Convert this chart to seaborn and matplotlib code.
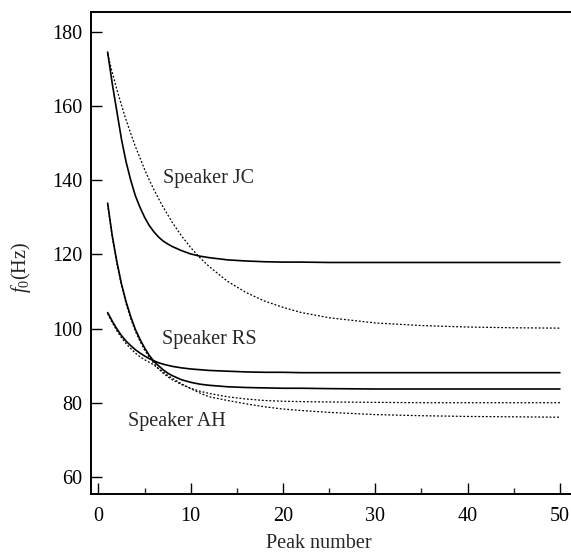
import matplotlib
matplotlib.use("Agg")
import matplotlib.pyplot as plt
import seaborn as sns
import pandas as pd
from matplotlib.ticker import MultipleLocator

# Peak numbers at which the fitted f0 curves are tabulated
peaks = [1, 1.5, 2, 2.5, 3, 3.5, 4, 4.5, 5, 5.5, 6, 6.5, 7, 7.5, 8, 9, 10, 11, 12,
         14, 16, 18, 20, 22, 25, 30, 35, 40, 45, 50]

# Speaker JC
jc_solid = [174.5, 166.0, 158.5, 151.0, 144.9, 140.0, 135.8, 132.7, 130.0, 127.8, 126.1, 124.7,
            123.6, 122.8, 122.1, 121.0, 120.1, 119.5, 119.1,
            118.5, 118.2, 118.0, 117.9, 117.9, 117.8, 117.8, 117.8, 117.8, 117.8, 117.8]
jc_dotted = [174.0, 169.0, 164.4, 160.2, 156.2, 152.6, 149.1, 146.0, 142.9, 140.1, 137.5, 135.1,
             132.8, 130.7, 128.6, 125.0, 121.8, 119.1, 116.7,
             112.7, 109.7, 107.4, 105.7, 104.3, 102.9, 101.5, 100.8, 100.4, 100.2, 100.1]

# Speaker RS
rs_solid = [133.8, 125.0, 118.0, 112.0, 107.2, 103.2, 99.8, 97.1, 94.8, 92.8, 91.2, 90.0,
            88.9, 88.0, 87.3, 86.2, 85.5, 85.0, 84.7,
            84.3, 84.1, 84.0, 83.9, 83.9, 83.8, 83.7, 83.7, 83.7, 83.7, 83.7]
rs_dotted = [133.5, 124.7, 117.6, 111.6, 106.7, 102.7, 99.3, 96.6, 94.2, 92.3, 90.6, 89.2,
             88.0, 87.0, 86.2, 84.9, 83.9, 83.1, 82.5,
             81.6, 81.0, 80.6, 80.4, 80.3, 80.2, 80.1, 80.0, 80.0, 80.0, 80.0]

# Speaker AH
ah_solid = [104.3, 102.0, 99.9, 98.1, 96.6, 95.4, 94.3, 93.4, 92.6, 91.9, 91.3, 90.8,
            90.4, 90.1, 89.8, 89.4, 89.1, 88.9, 88.7,
            88.5, 88.3, 88.2, 88.2, 88.1, 88.1, 88.1, 88.1, 88.1, 88.1, 88.1]
ah_dotted = [104.0, 101.6, 99.4, 97.5, 95.9, 94.6, 93.4, 92.4, 91.6, 90.9, 90.2, 89.2,
             88.3, 87.4, 86.6, 85.1, 83.8, 82.6, 81.6,
             80.6, 79.7, 78.9, 78.3, 77.9, 77.4, 76.8, 76.5, 76.3, 76.2, 76.1]

speaker_labels = ["Speaker JC", "Speaker RS", "Speaker AH"]
label_x = [7.0, 6.9, 3.2]
label_y = [139.2, 95.8, 73.8]

x_ticks = [0, 10, 20, 30, 40, 50]
y_ticks = [60, 80, 100, 120, 140, 160, 180]

sns.set_style("ticks")
plt.rcParams["font.family"] = ["Liberation Serif", "DejaVu Serif"]
plt.rcParams["mathtext.fontset"] = "custom"
plt.rcParams["mathtext.rm"] = "Liberation Serif"
plt.rcParams["mathtext.it"] = "Liberation Serif:italic"

fig = plt.figure(figsize=(5.71, 5.54), dpi=100)
ax = fig.add_axes([0.1594, 0.1083, 0.8406, 0.8700])

series = [
    ("JC", "solid", jc_solid), ("JC", "dotted", jc_dotted),
    ("RS", "solid", rs_solid), ("RS", "dotted", rs_dotted),
    ("AH", "solid", ah_solid), ("AH", "dotted", ah_dotted),
]
for spk, kind, vals in series:
    df = pd.DataFrame({"peak": peaks, "f0": vals})
    if kind == "solid":
        sns.lineplot(data=df, x="peak", y="f0", ax=ax, color="black",
                     linewidth=1.2, sort=False, estimator=None)
    else:
        sns.lineplot(data=df, x="peak", y="f0", ax=ax, color="black",
                     linewidth=0.9, dashes=False, sort=False, estimator=None,
                     linestyle=(0, (1.5, 1.5)))

for txt, lx, ly in zip(speaker_labels, label_x, label_y):
    ax.text(lx, ly, txt, fontsize=14.5, ha="left", va="baseline")

ax.set_xlim(-0.8, 51.2)
ax.set_ylim(55.4, 185.3)
ax.set_xticks(x_ticks)
ax.set_yticks(y_ticks)
ax.xaxis.set_minor_locator(MultipleLocator(5))

ax.tick_params(axis="both", which="major", direction="in", length=8, width=1.0,
               labelsize=14.5, colors="black")
ax.tick_params(axis="x", which="major", pad=9)
ax.tick_params(axis="y", which="major", pad=6)
ax.tick_params(axis="x", which="minor", direction="in", length=4, width=1.0)

for side in ["left", "bottom", "top"]:
    ax.spines[side].set_linewidth(1.4)
    ax.spines[side].set_color("black")
ax.spines["right"].set_visible(False)

ax.set_xlabel("Peak number", fontsize=14.5)
ax.set_ylabel(r"$f_0$(Hz)", fontsize=14.5)
ax.xaxis.set_label_coords(0.475, -0.083)
ax.yaxis.set_label_coords(-0.121, 0.469)

fig.savefig("out.png", dpi=100, facecolor="white")
